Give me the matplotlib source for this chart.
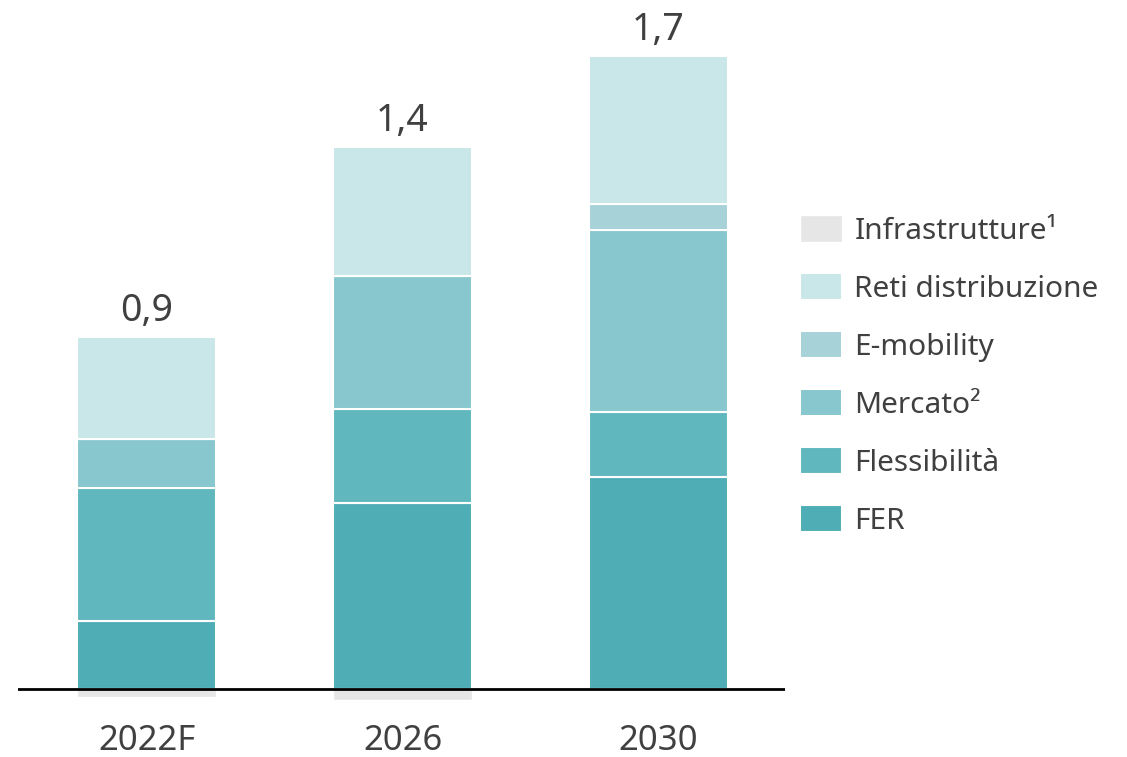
import matplotlib
matplotlib.use("Agg")
import matplotlib.pyplot as plt
import numpy as np

plt.rcParams['font.family'] = ['Noto Sans', 'DejaVu Sans']

years = ['2022F', '2026', '2030']
totals = ['0,9', '1,4', '1,7']

# stacked from bottom to top
fer = [0.18, 0.49, 0.56]
flessibilita = [0.35, 0.25, 0.17]
mercato = [0.13, 0.35, 0.48]
emobility = [0.0, 0.0, 0.07]
reti = [0.27, 0.34, 0.39]
infrastrutture = [-0.02, -0.03, 0.0]

series = [
    ('FER', fer, '#4EADB5'),
    ('Flessibilità', flessibilita, '#61B7BE'),
    ('Mercato²', mercato, '#87C7CD'),
    ('E-mobility', emobility, '#A7D2D8'),
    ('Reti distribuzione', reti, '#C9E7E9'),
]

TXT = '#404040'
SCALE = 379  # px per unit

fig = plt.figure(figsize=(11.27, 7.57), dpi=100)
ax = fig.add_axes([18/1127, 37/757, 767/1127, 700/757])

x = np.arange(len(years))
w = 0.543
bottom = np.zeros(len(years))
handles = {}
for name, vals, col in series:
    vals = np.array(vals)
    b = ax.bar(x, vals, w, bottom=bottom, color=col, edgecolor='white',
               linewidth=1.5, label=name, zorder=2)
    handles[name] = b
    bottom += vals

b = ax.bar(x, infrastrutture, w, color='#E6E6E6', edgecolor='white',
           linewidth=1.0, label='Infrastrutture¹', zorder=1)
handles['Infrastrutture¹'] = b

ax.axhline(0, color='black', lw=2, zorder=3)

for xi, top, lab in zip(x, bottom, totals):
    ax.annotate(lab, (xi, top), xytext=(0, 5), textcoords='offset points',
                ha='center', va='bottom', fontsize=27, color=TXT)

ax.set_xlim(-0.502, 2.494)
ax.set_ylim(-31/SCALE, 669/SCALE)
ax.set_xticks(x)
ax.set_xticklabels(years, fontsize=25, color=TXT)
ax.tick_params(axis='x', length=0, pad=3)
ax.set_yticks([])
for s in ax.spines.values():
    s.set_visible(False)

order = ['Infrastrutture¹', 'Reti distribuzione', 'E-mobility', 'Mercato²',
         'Flessibilità', 'FER']
leg = fig.legend([handles[k] for k in order], order,
                 loc='upper left', bbox_to_anchor=(800/1127, 1 - 215/757),
                 frameon=False, fontsize=21.5, handlelength=1.42,
                 handleheight=1.0, handletextpad=0.4, labelspacing=0.92,
                 borderpad=0, borderaxespad=0)
for t in leg.get_texts():
    t.set_color(TXT)

fig.savefig('out.png', dpi=100)
